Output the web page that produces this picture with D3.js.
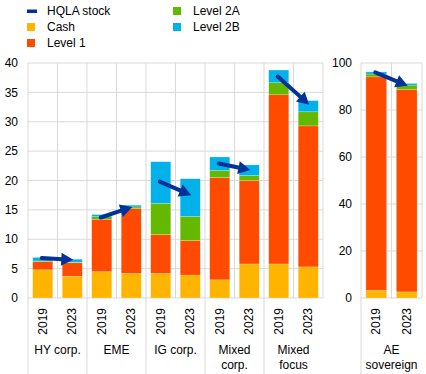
<!DOCTYPE html>
<html><head><meta charset="utf-8">
<script src="https://cdn.jsdelivr.net/npm/d3@7"></script>
<style>body{margin:0;background:#fff}svg{display:block;font-family:"Liberation Sans",Arial,sans-serif}</style>
</head><body><svg id="c" width="426" height="374"></svg>
<script>
const groups = ["HY corp.", "EME", "IG corp.", "Mixed corp.", "Mixed focus"];
const groupLines = [["HY corp."], ["EME"], ["IG corp."], ["Mixed", "corp."], ["Mixed", "focus"]];
const rightGroup = ["AE", "sovereign"];
const years = ["2019", "2023"];
const series = ["Cash", "Level 1", "Level 2A", "Level 2B"];
const colors = ["#FFB400", "#FF4B00", "#65B800", "#00B1EA"];
const hqlaColor = "#003299";
// values per bar: [Cash, Level 1, Level 2A, Level 2B], order: group x year
const cash    = [4.8, 3.7, 4.5, 4.2, 4.2, 3.9, 3.1, 5.8, 5.8, 5.3];
const level1  = [1.4, 2.3, 8.9, 11.0, 6.6, 5.9, 17.4, 14.2, 28.8, 24.0];
const level2A = [0.1, 0.1, 0.45, 0.3, 5.3, 4.1, 1.2, 0.85, 2.05, 2.4];
const level2B = [0.6, 0.5, 0.35, 0.3, 7.1, 6.4, 2.3, 1.8, 2.15, 1.9];
const hqlaStart = [6.8, 13.7, 19.8, 22.9, 37.7];
const hqlaEnd   = [6.5, 15.5, 17.5, 21.8, 32.9];
// AE sovereign (right panel)
const aeCash = [3.3, 2.6];
const aeLevel1 = [90.8, 86.1];
const aeLevel2A = [1.2, 1.9];
const aeLevel2B = [0.9, 0.7];
const aeHqla = [96.0, 90.3];
const leftTicks = [0, 5, 10, 15, 20, 25, 30, 35, 40];
const rightTicks = [0, 20, 40, 60, 80, 100];

const svg = d3.select("#c");
const grid = "#d9d9d9";
const fs = 12;

const yL = d3.scaleLinear().domain([0, 40]).range([298, 63]);
const yR = d3.scaleLinear().domain([0, 100]).range([298, 63]);
const keys = [];
groups.forEach((g, i) => years.forEach(y => keys.push(i + "_" + y)));
const xL = d3.scaleBand().domain(keys).range([28, 323]).paddingInner(0.32).paddingOuter(0.16);
const xR = d3.scaleBand().domain(years).range([361, 422]).paddingInner(0.32).paddingOuter(0.16);

function drawPanel(x, y, ticks, labelX) {
  const [x0, x1] = x.range();
  const g = svg.append("g");
  ticks.forEach(t => {
    g.append("line").attr("x1", x0).attr("x2", x1).attr("y1", y(t)).attr("y2", y(t)).attr("stroke", grid).attr("stroke-width", 1);
    g.append("text").attr("x", labelX).attr("y", y(t)).attr("dy", "0.35em").attr("text-anchor", "end")
      .attr("font-size", fs).attr("fill", "#000").text(t);
  });
  const step = x.step();
  for (let i = 0; i <= x.domain().length; i++) {
    const xv = x0 + i * step;
    g.append("line").attr("x1", xv).attr("x2", xv).attr("y1", y.range()[1]).attr("y2", y.range()[0]).attr("stroke", grid);
  }
}
drawPanel(xL, yL, leftTicks, 18);
drawPanel(xR, yR, rightTicks, 352);

function drawBar(x, y, key, vals) {
  let acc = 0;
  vals.forEach((v, s) => {
    svg.append("rect").attr("x", x(key)).attr("width", x.bandwidth())
      .attr("y", y(acc + v)).attr("height", y(acc) - y(acc + v))
      .attr("fill", colors[s]).attr("stroke", "#fff").attr("stroke-opacity", 0.35).attr("stroke-width", 0.6);
    acc += v;
  });
}
keys.forEach((k, i) => drawBar(xL, yL, k, [cash[i], level1[i], level2A[i], level2B[i]]));
years.forEach((k, i) => drawBar(xR, yR, k, [aeCash[i], aeLevel1[i], aeLevel2A[i], aeLevel2B[i]]));

function arrow(xa, ya, xb, yb) {
  const dx = xb - xa, dy = yb - ya, L = Math.hypot(dx, dy);
  const ux = dx / L, uy = dy / L, hl = 12, hw = 6.5;
  const bx = xb - ux * hl, by = yb - uy * hl;
  svg.append("line").attr("x1", xa).attr("y1", ya).attr("x2", bx + ux * 1).attr("y2", by + uy * 1)
    .attr("stroke", hqlaColor).attr("stroke-width", 4).attr("stroke-linecap", "round");
  svg.append("path").attr("d", d3.line()([[xb, yb], [bx - uy * hw, by + ux * hw], [bx + uy * hw, by - ux * hw]]) + "Z")
    .attr("fill", hqlaColor);
}
groups.forEach((g, i) => {
  const a = xL(i + "_2019") + xL.bandwidth() / 2, b = xL(i + "_2023") + xL.bandwidth() / 2;
  arrow(a - 1, yL(hqlaStart[i]), b + 1, yL(hqlaEnd[i]));
});
arrow(xR("2019") + xR.bandwidth() / 2 - 1, yR(aeHqla[0]), xR("2023") + xR.bandwidth() / 2 + 1, yR(aeHqla[1]));

// x-axis labels
function yearLabels(x, keyFn, list) {
  list.forEach(k => {
    const cx = x(k) + x.bandwidth() / 2;
    svg.append("text").attr("transform", `translate(${cx},308) rotate(-90)`).attr("text-anchor", "end")
      .attr("dy", "0.35em").attr("font-size", fs).text(keyFn(k));
  });
}
yearLabels(xL, k => k.split("_")[1], keys);
yearLabels(xR, k => k, years);
const stepL = xL.step();
groups.forEach((g, i) => {
  const gx0 = 28 + i * 2 * stepL, cx = gx0 + stepL;
  svg.append("line").attr("x1", gx0).attr("x2", gx0).attr("y1", 298).attr("y2", 374).attr("stroke", grid);
  groupLines[i].forEach((t, j) => {
    svg.append("text").attr("x", cx).attr("y", 354 + j * 15).attr("text-anchor", "middle").attr("font-size", fs).text(t);
  });
});
svg.append("line").attr("x1", 361).attr("x2", 361).attr("y1", 298).attr("y2", 374).attr("stroke", grid);
rightGroup.forEach((t, j) => {
  svg.append("text").attr("x", 391.5).attr("y", 354 + j * 15).attr("text-anchor", "middle").attr("font-size", fs).text(t);
});

// legend
const leg = [
  {name: "HQLA stock", c: hqlaColor, line: true, x: 27, y: 11},
  {name: "Cash", c: colors[0], x: 27, y: 27},
  {name: "Level 1", c: colors[1], x: 27, y: 43},
  {name: "Level 2A", c: colors[2], x: 173, y: 11},
  {name: "Level 2B", c: colors[3], x: 173, y: 27}
];
leg.forEach(d => {
  if (d.line) svg.append("rect").attr("x", d.x).attr("y", d.y - 1.5).attr("width", 10).attr("height", 3.5).attr("fill", d.c);
  else svg.append("rect").attr("x", d.x).attr("y", d.y - 4).attr("width", 8).attr("height", 8).attr("fill", d.c);
  svg.append("text").attr("x", d.x + 20).attr("y", d.y).attr("dy", "0.35em").attr("font-size", fs).text(d.name);
});
</script></body></html>
